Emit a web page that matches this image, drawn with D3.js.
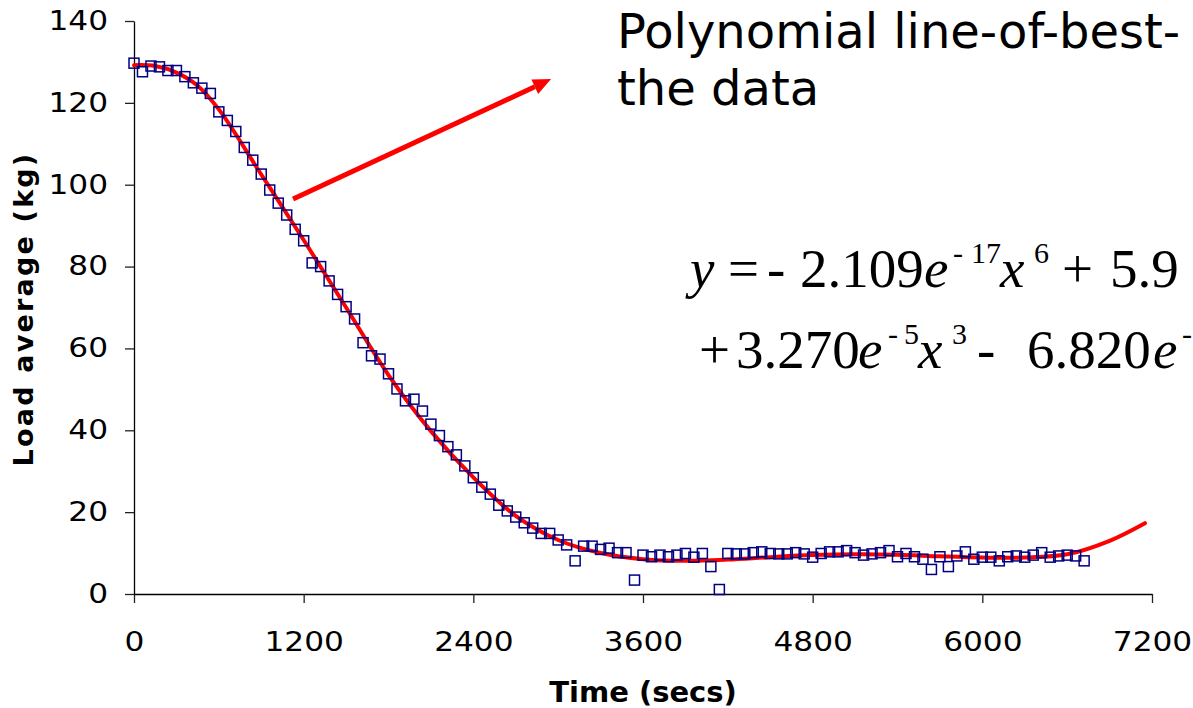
<!DOCTYPE html>
<html>
<head>
<meta charset="utf-8">
<script src="https://cdn.jsdelivr.net/npm/d3@7"></script>
<style>
  body { margin: 0; background: #fff; }
  svg { display: block; }
</style>
</head>
<body>
<script>
var w = 1193;
var h = 708;

// measured load readings, one every 60 secs
var times = [0, 60, 120, 180, 240, 300, 360, 420, 480, 540,
             600, 660, 720, 780, 840, 900, 960, 1020, 1080, 1140,
             1200, 1260, 1320, 1380, 1440, 1500, 1560, 1620, 1680, 1740,
             1800, 1860, 1920, 1980, 2040, 2100, 2160, 2220, 2280, 2340,
             2400, 2460, 2520, 2580, 2640, 2700, 2760, 2820, 2880, 2940,
             3000, 3060, 3120, 3180, 3240, 3300, 3360, 3420, 3480, 3540,
             3600, 3660, 3720, 3780, 3840, 3900, 3960, 4020, 4080, 4140,
             4200, 4260, 4320, 4380, 4440, 4500, 4560, 4620, 4680, 4740,
             4800, 4860, 4920, 4980, 5040, 5100, 5160, 5220, 5280, 5340,
             5400, 5460, 5520, 5580, 5640, 5700, 5760, 5820, 5880, 5940,
             6000, 6060, 6120, 6180, 6240, 6300, 6360, 6420, 6480, 6540,
             6600, 6660, 6720];
var loads = [129.7, 127.6, 129.0, 128.8, 127.9, 127.9, 126.4, 124.9, 123.6, 122.3,
             117.8, 115.7, 113.0, 109.1, 106.0, 102.6, 98.7, 95.5, 92.6, 89.1,
             86.3, 80.9, 80.0, 76.5, 73.2, 70.2, 67.2, 61.4, 58.2, 57.4,
             53.8, 50.1, 47.2, 47.6, 44.7, 41.5, 38.7, 36.0, 34.0, 31.3,
             28.4, 26.1, 24.4, 21.7, 20.3, 18.8, 17.4, 16.1, 14.8, 14.8,
             13.2, 12.0, 8.1, 11.7, 11.7, 10.9, 11.2, 10.1, 10.1, 3.4,
             9.5, 9.1, 9.5, 9.1, 9.5, 9.9, 9.0, 9.9, 6.7, 1.1,
             9.9, 9.8, 9.8, 10.1, 10.3, 9.9, 9.8, 9.8, 10.1, 9.8,
             9.0, 9.9, 10.3, 10.3, 10.6, 10.1, 9.5, 9.8, 10.1, 10.6,
             9.1, 9.9, 9.1, 8.5, 6.0, 9.1, 6.7, 9.3, 10.3, 8.5,
             9.0, 9.0, 8.1, 9.1, 9.3, 9.0, 9.5, 10.1, 9.0, 9.3,
             9.5, 9.3, 8.1];

// the polynomial trend line
var fitTimes = [0, 150, 300, 450, 600, 900, 1200, 1500, 1800, 2100, 2400, 2700, 3000,
                3300, 3600, 3900, 4200, 4500, 4800, 5100, 5400, 5700, 6000, 6300, 6600, 6900, 7150];
var fitLoads = [129.2, 129.0, 127.4, 124.2, 118.4, 102.5, 86.5, 70.0, 53.5, 39.8, 28.5, 19.1, 13.2,
                10.0, 8.5, 8.1, 8.4, 9.0, 9.5, 9.7, 9.6, 9.2, 8.9, 8.9, 9.7, 13.0, 17.3];

// tick labels
var xTicks = [0, 1200, 2400, 3600, 4800, 6000, 7200];
var yTicks = [0, 20, 40, 60, 80, 100, 120, 140];

var svg = d3.select("body")
            .append("svg")
            .attr("width", w)
            .attr("height", h);

var xScale = d3.scaleLinear()
               .domain([0, 7200])
               .range([134, 1152]);

var yScale = d3.scaleLinear()
               .domain([0, 140])
               .range([594, 21]);

var xAxis = d3.axisBottom(xScale)
              .tickValues(xTicks)
              .tickFormat(d3.format("d"))
              .tickSize(9)
              .tickSizeOuter(0)
              .tickPadding(30);

var yAxis = d3.axisLeft(yScale)
              .tickValues(yTicks)
              .tickSize(9)
              .tickSizeOuter(0)
              .tickPadding(17);

var gx = svg.append("g")
    .attr("transform", "translate(0," + yScale(0) + ")")
    .call(xAxis);

var gy = svg.append("g")
    .attr("transform", "translate(" + xScale(0) + ",0)")
    .call(yAxis);

// axis look
[gx, gy].forEach(function (g) {
    g.select(".domain").attr("stroke", "#000").attr("stroke-width", 1.3);
    g.selectAll(".tick line").attr("stroke", "#222").attr("stroke-width", 1.3);
    g.selectAll(".tick text")
     .attr("fill", "#000")
     .style("font-family", "'DejaVu Sans', Verdana, sans-serif")
     .style("font-size", "26px");
});

// the original labels use wide digits, so stretch them sideways
var stretch = 1.2;
gx.selectAll(".tick text")
  .attr("transform", "scale(" + stretch + ",1)");
gy.selectAll(".tick text")
  .attr("x", -(9 + 17) / stretch)
  .attr("transform", "scale(" + stretch + ",1)");

// trend line
var fitData = fitTimes.map(function (t, i) { return [t, fitLoads[i]]; });
var line = d3.line()
             .x(function (d) { return xScale(d[0]); })
             .y(function (d) { return yScale(d[1]); })
             .curve(d3.curveCatmullRom.alpha(0.5));

svg.append("path")
   .datum(fitData)
   .attr("d", line)
   .attr("fill", "none")
   .attr("stroke", "#ff0000")
   .attr("stroke-width", 4)
   .attr("stroke-linecap", "round");

// hollow square markers
var size = 10;
svg.selectAll("rect.pt")
   .data(times)
   .enter()
   .append("rect")
   .attr("class", "pt")
   .attr("x", function (d) { return xScale(d) - size / 2; })
   .attr("y", function (d, i) { return yScale(loads[i]) - size / 2; })
   .attr("width", size)
   .attr("height", size)
   .attr("fill", "none")
   .attr("stroke", "#000080")
   .attr("stroke-width", 1.5);

// arrow pointing at the trend line label
var arrowFrom = [1125, 96.5];
var arrowTo = [2950, 125.8];
var ax1 = xScale(arrowFrom[0]), ay1 = yScale(arrowFrom[1]);
var ax2 = xScale(arrowTo[0]), ay2 = yScale(arrowTo[1]);
var ang = Math.atan2(ay2 - ay1, ax2 - ax1);
var headLen = 18, headW = 8;
var bx = ax2 - headLen * Math.cos(ang), by = ay2 - headLen * Math.sin(ang);

svg.append("line")
   .attr("x1", ax1).attr("y1", ay1)
   .attr("x2", bx).attr("y2", by)
   .attr("stroke", "#ff0000")
   .attr("stroke-width", 5);

svg.append("path")
   .attr("d", "M" + ax2 + "," + ay2 +
              "L" + (bx + headW * Math.sin(ang)) + "," + (by - headW * Math.cos(ang)) +
              "L" + (bx - headW * Math.sin(ang)) + "," + (by + headW * Math.cos(ang)) + "Z")
   .attr("fill", "#ff0000");

// axis titles
svg.append("text")
   .attr("x", 643)
   .attr("y", 702)
   .attr("text-anchor", "middle")
   .style("font-family", "'DejaVu Sans', Verdana, sans-serif")
   .style("font-weight", "bold")
   .style("font-size", "29px")
   .text("Time (secs)");

svg.append("text")
   .attr("transform", "translate(33,309) rotate(-90)")
   .attr("text-anchor", "middle")
   .style("font-family", "'DejaVu Sans', Verdana, sans-serif")
   .style("font-weight", "bold")
   .style("font-size", "27px")
   .style("letter-spacing", "2.2px")
   .text("Load average (kg)");

// annotation text
var note = svg.append("text")
   .style("font-family", "'DejaVu Sans', Verdana, sans-serif")
   .style("font-size", "48px");
note.append("tspan").attr("x", 617).attr("y", 48).text("Polynomial line-of-best-");
note.append("tspan").attr("x", 617).attr("y", 105).text("the data");

// equation, pieces: text, x, baseline, italic, superscript
var eqPieces = [
    ["y", 690, 287, true, false], ["=", 728, 287, false, false], ["-", 767, 287, false, false],
    ["2.109", 800, 287, false, false], ["e", 924, 287, true, false],
    ["-", 953, 263, false, true], ["17", 971, 263, false, true],
    ["x", 1000, 287, true, false], ["6", 1034, 263, false, true],
    ["+", 1062, 287, false, false], ["5.9", 1110, 287, false, false],
    ["+", 699, 368, false, false], ["3.270", 736, 368, false, false], ["e", 858, 368, true, false],
    ["-", 888, 344, false, true], ["5", 904, 344, false, true],
    ["x", 918, 368, true, false], ["3", 952, 344, false, true],
    ["-", 977, 368, false, false], ["6.820", 1027, 368, false, false], ["e", 1153, 368, true, false],
    ["-", 1182, 344, false, true]
];

svg.selectAll("text.eq")
   .data(eqPieces)
   .enter()
   .append("text")
   .attr("class", "eq")
   .attr("x", function (d) { return d[1]; })
   .attr("y", function (d) { return d[2]; })
   .style("font-family", "'Liberation Serif', 'Times New Roman', serif")
   .style("font-style", function (d) { return d[3] ? "italic" : "normal"; })
   .style("font-size", function (d) { return d[4] ? "30px" : "55px"; })
   .text(function (d) { return d[0]; });
</script>
</body>
</html>
